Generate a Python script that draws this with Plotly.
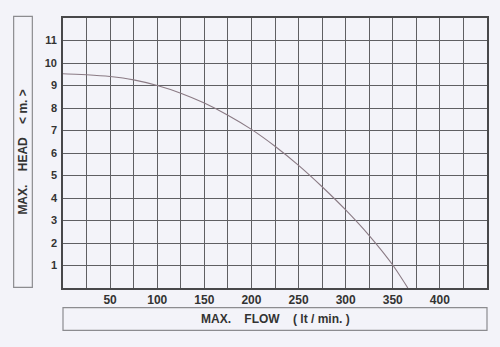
import plotly.graph_objects as go

# Pump curve data
flow = [0, 25, 50, 75, 100, 125, 150, 175, 200, 225, 250, 275, 300, 325, 350, 366]
head = [9.52, 9.48, 9.40, 9.25, 9.00, 8.66, 8.22, 7.68, 7.05, 6.30, 5.45, 4.50, 3.47, 2.33, 1.02, 0.0]

x_grid = list(range(0, 451, 25))
x_labels = [50, 100, 150, 200, 250, 300, 350, 400]
y_grid = list(range(0, 13))
y_labels = list(range(1, 12))

bg = "#f3f3f9"
grid_col = "#5f5f63"
txt_col = "#333333"

fig = go.Figure()
fig.add_trace(go.Scatter(
    x=flow, y=head, mode="lines",
    line=dict(color="#8a7a84", width=1.1, shape="spline", smoothing=0.5),
    hoverinfo="skip", showlegend=False,
))

fig.update_layout(
    width=500, height=347,
    margin=dict(l=63, r=13, t=18, b=59),
    paper_bgcolor=bg, plot_bgcolor=bg,
    font=dict(family="Liberation Sans, Arial, sans-serif", color=txt_col),
    showlegend=False,
)

fig.update_xaxes(
    range=[0, 450], tickmode="array", tickvals=x_grid,
    ticktext=[str(v) if v in x_labels else "" for v in x_grid],
    showgrid=True, gridcolor=grid_col, gridwidth=1.2,
    showline=True, linecolor="#48484a", linewidth=1.6, mirror=True,
    ticks="", zeroline=False,
    tickfont=dict(size=12, color=txt_col, family="Liberation Sans, Arial, sans-serif", weight="bold"),
)
fig.update_yaxes(
    range=[0, 12], tickmode="array", tickvals=y_grid,
    ticktext=[str(v) if v in y_labels else "" for v in y_grid],
    showgrid=True, gridcolor=grid_col, gridwidth=1.2,
    showline=True, linecolor="#48484a", linewidth=1.6, mirror=True,
    ticks="", zeroline=False, ticklabelstandoff=2,
    tickfont=dict(size=11, color=txt_col, family="Liberation Sans, Arial, sans-serif", weight="bold"),
)

# Title boxes
box_line = dict(color="#8c8c90", width=1.2)
fig.add_shape(type="rect", xref="paper", yref="paper",
              x0=-0.1164, x1=-0.0723, y0=0.0026, y1=1.0063,
              line=box_line, fillcolor="rgba(0,0,0,0)", layer="above")
fig.add_shape(type="rect", xref="paper", yref="paper",
              x0=0.0, x1=1.0, y0=-0.1567, y1=-0.0726,
              line=box_line, fillcolor="rgba(0,0,0,0)", layer="above")

nb = "\u00a0"
fig.add_annotation(
    xref="paper", yref="paper", x=-0.0944, y=0.505,
    text="MAX." + nb * 4 + "HEAD" + nb * 4 + "&lt;" + nb + "m." + nb + "&gt;",
    textangle=-90, showarrow=False,
    font=dict(size=12, color=txt_col, family="Liberation Sans, Arial, sans-serif", weight="bold"),
    xanchor="center", yanchor="middle",
)
fig.add_annotation(
    xref="paper", yref="paper", x=0.5, y=-0.1147,
    text="MAX." + nb * 4 + "FLOW" + nb * 4 + "(" + nb + "lt" + nb + "/" + nb + "min." + nb + ")",
    showarrow=False,
    font=dict(size=12, color=txt_col, family="Liberation Sans, Arial, sans-serif", weight="bold"),
    xanchor="center", yanchor="middle",
)

fig.write_html("out.html")
